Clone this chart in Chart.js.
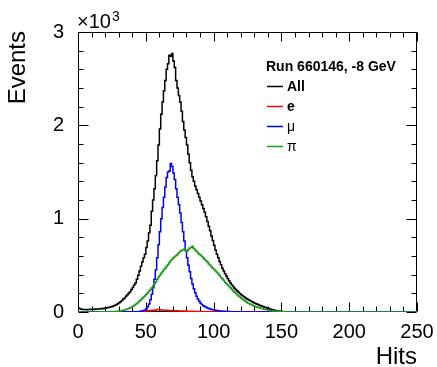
<!DOCTYPE html>
<html>
<head>
<meta charset="utf-8">
<script src="https://cdn.jsdelivr.net/npm/chart.js@4.4.1/dist/chart.umd.min.js"></script>
<style>
  html, body { margin: 0; padding: 0; background: #fff; }
  canvas { display: block; }
</style>
</head>
<body>
<canvas id="hitsChart" width="437" height="367"></canvas>
<script>
// one bin per hit, bins 0..249
const allHits = [
  48,42,38,30,28,26,27,25,28,26,
  30,28,27,31,29,33,31,35,38,36,
  40,42,45,48,52,55,60,66,72,80,
  88,98,110,122,138,150,168,185,200,218,
  240,262,288,310,350,395,440,490,535,580,
  620,690,760,850,930,1080,1200,1320,1460,1620,
  1790,1960,2120,2250,2370,2480,2600,2660,2750,2740,
  2770,2690,2620,2480,2400,2320,2250,2150,2040,1950,
  1870,1790,1690,1600,1520,1450,1400,1350,1310,1270,
  1230,1190,1150,1110,1070,1020,970,920,870,815,
  765,715,665,620,580,540,505,470,440,410,
  385,360,335,312,292,272,255,240,225,212,
  198,186,174,163,153,143,134,125,117,110,
  102,95,88,82,76,70,64,58,53,48,
  43,38,33,29,25,21,17,14,11,9,
  7,5,4,3,2,2,2,1,1,1,
  0,0,0,0,0,0,0,0,0,0, 0,0,0,0,0,0,0,0,0,0, 0,0,0,0,0,0,0,0,0,0,
  0,0,0,0,0,0,0,0,0,0, 0,0,0,0,0,0,0,0,0,0, 0,0,0,0,0,0,0,0,0,0,
  0,0,0,0,0,0,0,0,0,0, 0,0,0,0,0,0,0,0,0,0, 0,0,0,0,0,0,0,0,0,0
];

const eHits = [
  0,0,0,0,0,0,0,0,0,0, 0,0,0,0,0,0,0,0,0,0,
  0,0,0,0,0,0,0,0,0,0, 0,0,0,0,0,0,0,0,0,0,
  1,1,1,2,2,3,4,5,7,9,
  11,12,14,16,17,18,19,20,22,24,
  27,23,21,20,19,18,18,17,16,16,
  15,15,14,13,13,12,12,11,10,10,
  9,9,8,8,7,7,6,6,6,5,
  5,5,4,4,4,4,3,3,3,3,
  3,2,2,2,2,2,2,1,1,1,
  1,1,1,1,1,1,1,0,1,0,
  0,0,0,0,0,0,0,0,0,0, 0,0,0,0,0,0,0,0,0,0, 0,0,0,0,0,0,0,0,0,0,
  0,0,0,0,0,0,0,0,0,0, 0,0,0,0,0,0,0,0,0,0, 0,0,0,0,0,0,0,0,0,0,
  0,0,0,0,0,0,0,0,0,0, 0,0,0,0,0,0,0,0,0,0, 0,0,0,0,0,0,0,0,0,0,
  0,0,0,0,0,0,0,0,0,0, 0,0,0,0,0,0,0,0,0,0, 0,0,0,0,0,0,0,0,0,0,
  0,0,0,0,0,0,0,0,0,0
];

const muHits = [
  0,0,0,0,0,0,0,0,0,0, 0,0,0,0,0,0,0,0,0,0,
  0,0,0,0,0,0,0,0,0,0, 0,0,0,0,0,0,0,0,0,0,
  1,1,2,2,3,4,5,7,10,15,
  22,35,55,85,130,190,260,350,450,580,
  720,860,1000,1120,1230,1340,1440,1500,1510,1590,
  1560,1490,1420,1320,1230,1150,1060,960,860,760,
  660,580,500,430,360,300,250,205,170,140,
  115,95,80,68,58,50,43,37,32,28,
  24,21,18,16,14,12,10,9,8,7,
  6,5,5,4,4,3,3,3,2,2,
  2,2,2,1,1,1,1,1,1,1,
  1,1,1,1,1,1,1,0,1,0,
  1,0,1,0,0,1,0,0,0,0,
  0,0,0,0,0,0,0,0,0,0, 0,0,0,0,0,0,0,0,0,0, 0,0,0,0,0,0,0,0,0,0,
  0,0,0,0,0,0,0,0,0,0, 0,0,0,0,0,0,0,0,0,0, 0,0,0,0,0,0,0,0,0,0,
  0,0,0,0,0,0,0,0,0,0, 0,0,0,0,0,0,0,0,0,0, 0,0,0,0,0,0,0,0,0,0,
  0,0,0,0,0,0,0,0,0,0
];

const piHits = [
  0,0,0,1,0,0,1,0,0,1,
  0,1,1,0,1,1,1,2,1,2,
  2,2,3,2,3,3,3,4,5,6,
  8,10,12,15,18,22,27,32,38,45,
  52,60,70,80,92,105,118,132,148,160,
  175,190,205,222,240,258,280,300,325,350,
  375,395,415,435,455,470,490,510,530,550,
  565,580,595,605,620,635,650,660,665,675,
  660,650,670,685,690,705,680,665,650,635,
  620,610,595,580,565,550,535,515,500,485,
  470,455,440,425,410,390,370,355,340,320,
  305,290,275,260,245,228,212,198,185,172,
  160,148,136,125,114,104,95,88,80,74,
  68,62,57,52,47,42,38,34,30,26,
  23,20,17,15,13,11,9,7,6,5,
  4,3,3,2,2,1,1,1,1,0,
  0,0,0,0,0,0,0,0,0,0, 0,0,0,0,0,0,0,0,0,0, 0,0,0,0,0,0,0,0,0,0,
  0,0,0,0,0,0,0,0,0,0, 0,0,0,0,0,0,0,0,0,0, 0,0,0,0,0,0,0,0,0,0,
  0,0,0,0,0,0,0,0,0,0, 0,0,0,0,0,0,0,0,0,0, 0,0,0,0,0,0,0,0,0,0
];

const seriesNames = ['All', 'e', 'μ', 'π'];
const seriesColors = ['#000000', '#ff0000', '#0000ff', '#1f9a1f'];
const seriesBold = [true, true, false, false];
const legendTitle = 'Run 660146, -8 GeV';
const xTicks = [0, 50, 100, 150, 200, 250];
const yTicks = [0, 1000, 2000, 3000];
const xTitle = 'Hits';
const yTitle = 'Events';

const FONT = '"Liberation Sans", Arial, sans-serif';

// histogram bins -> step points (low edge of each bin, plus the last upper edge)
function toSteps(counts) {
  const pts = counts.map((v, i) => ({ x: i, y: v }));
  pts.push({ x: counts.length, y: counts[counts.length - 1] });
  return pts;
}

// ROOT-like frame: box, ticks on all four sides, legend, titles
const rootFrame = {
  id: 'rootFrame',
  beforeDatasetsDraw(chart) {
    const { ctx, chartArea: a, scales: { x, y } } = chart;
    ctx.save();
    ctx.strokeStyle = '#000';
    ctx.lineWidth = 1;
    const L = Math.round(a.left) + 0.5, R = Math.round(a.right) - 0.5;
    const T = Math.round(a.top) + 0.5, B = Math.round(a.bottom) - 0.5;
    ctx.strokeRect(L, T, R - L, B - T);
    ctx.beginPath();
    for (let v = 0; v <= 250; v += 10) {
      const px = Math.round(x.getPixelForValue(v)) + 0.5;
      const len = v % 50 === 0 ? 9 : 5;
      ctx.moveTo(px, B); ctx.lineTo(px, B - len);
      ctx.moveTo(px, T); ctx.lineTo(px, T + len);
    }
    for (let v = 0; v <= 3000; v += 200) {
      const py = Math.round(y.getPixelForValue(v)) + 0.5;
      const len = v % 1000 === 0 ? 10 : 5;
      ctx.moveTo(L, py); ctx.lineTo(L + len, py);
      ctx.moveTo(R, py); ctx.lineTo(R - len, py);
    }
    ctx.stroke();
    ctx.restore();
  },
  afterDraw(chart) {
    const { ctx, chartArea: a } = chart;
    ctx.save();
    ctx.fillStyle = '#000';
    ctx.textBaseline = 'alphabetic';

    // exponent label
    ctx.textAlign = 'left';
    ctx.font = '20px ' + FONT;
    ctx.fillText('×10', a.left - 1, 28);
    const w = ctx.measureText('×10').width;
    ctx.font = '14px ' + FONT;
    ctx.fillText('3', a.left - 1 + w + 1, 21);

    // axis titles
    ctx.font = '24px ' + FONT;
    ctx.textAlign = 'right';
    ctx.fillText(xTitle, a.right, 364);
    ctx.save();
    ctx.translate(25, a.top - 1);
    ctx.rotate(-Math.PI / 2);
    ctx.fillText(yTitle, 0, 0);
    ctx.restore();

    // legend
    ctx.textAlign = 'left';
    ctx.font = 'bold 14px ' + FONT;
    ctx.fillText(legendTitle, 266, 71);
    seriesNames.forEach((name, i) => {
      const rowY = 86 + i * 20;
      ctx.strokeStyle = seriesColors[i];
      ctx.lineWidth = 1.5;
      ctx.beginPath();
      ctx.moveTo(267, rowY + 0.5);
      ctx.lineTo(283, rowY + 0.5);
      ctx.stroke();
      ctx.font = (seriesBold[i] ? 'bold ' : '') + '14px ' + FONT;
      ctx.fillText(name, 287, rowY + 5);
    });
    ctx.restore();
  }
};

const seriesData = [allHits, eHits, muHits, piHits];

new Chart(document.getElementById('hitsChart'), {
  type: 'line',
  data: {
    datasets: seriesData.map((counts, i) => ({
      label: seriesNames[i],
      data: toSteps(counts),
      borderColor: seriesColors[i],
      borderWidth: 1.5,
      stepped: 'after',
      pointRadius: 0,
      fill: false,
      order: seriesData.length - 1 - i
    }))
  },
  options: {
    responsive: false,
    animation: false,
    devicePixelRatio: 1,
    layout: { padding: { left: 0, top: 32, right: 20, bottom: 0 } },
    plugins: { legend: { display: false }, tooltip: { enabled: false } },
    scales: {
      x: {
        type: 'linear',
        min: 0,
        max: 250,
        afterFit(scale) { scale.height = 55; },
        afterBuildTicks(scale) { scale.ticks = xTicks.map(v => ({ value: v })); },
        grid: { display: false },
        border: { display: false },
        ticks: { autoSkip: false, maxRotation: 0, color: '#000', padding: 0, font: { family: FONT, size: 20 } }
      },
      y: {
        type: 'linear',
        min: 0,
        max: 3000,
        afterFit(scale) { scale.width = 78; },
        afterBuildTicks(scale) { scale.ticks = yTicks.map(v => ({ value: v })); },
        grid: { display: false },
        border: { display: false },
        ticks: {
          color: '#000',
          padding: 6,
          font: { family: FONT, size: 20 },
          callback: v => String(v / 1000)
        }
      }
    }
  },
  plugins: [rootFrame]
});
</script>
</body>
</html>
